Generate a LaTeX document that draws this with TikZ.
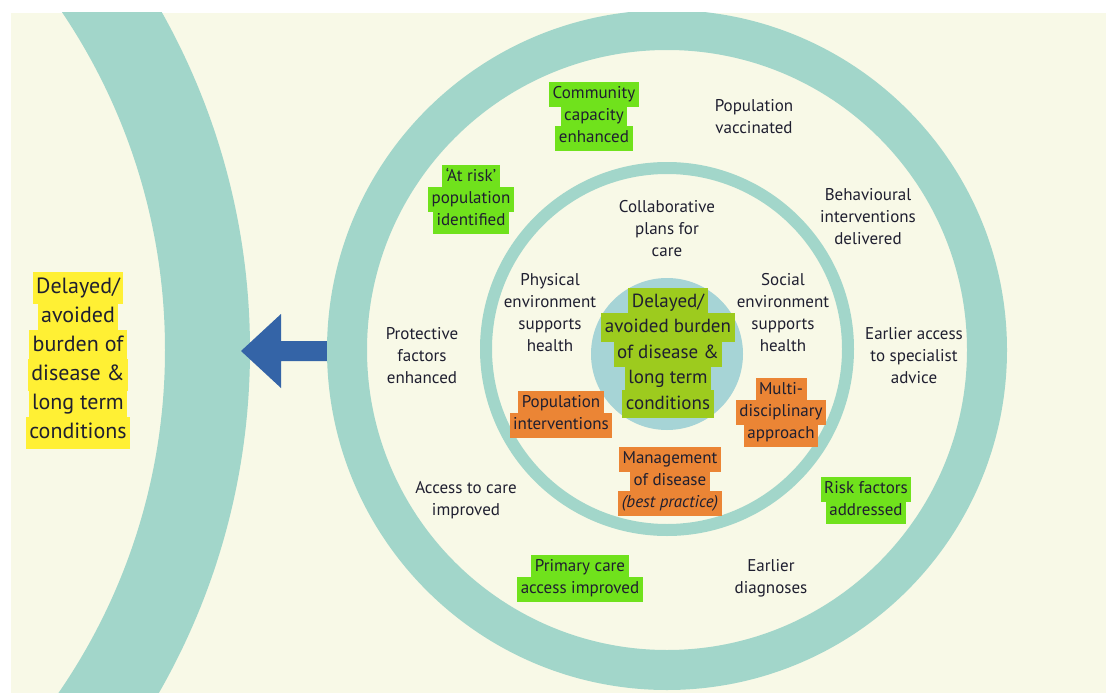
\documentclass[tikz,border=0pt]{standalone}
\usepackage{fontspec}
\setmainfont{PT Sans}
\usepackage{tikz}

\definecolor{bgcream}{HTML}{F8F9E7}
\definecolor{ringteal}{HTML}{A2D6CA}
\definecolor{discblue}{HTML}{A6D4D6}
\definecolor{arrowblue}{HTML}{3464A7}
\definecolor{txt}{HTML}{1F1F30}
\definecolor{hlyellow}{HTML}{FFF034}
\definecolor{hlgreen}{HTML}{70E21C}
\definecolor{hlolive}{HTML}{9DCB1E}
\definecolor{hlorange}{HTML}{EB8535}

\lineskiplimit=-50pt
\newcommand{\hl}[2]{{\fboxsep=1.5pt\colorbox{#1}{\hspace{2pt}\strut #2\hspace{2pt}}}}

\begin{document}
\begin{tikzpicture}[
    x = 1pt,
    y = -1pt,
    ring/.style = {fill=ringteal, even odd rule},
    plain/.style = {align=center, text=txt, inner sep=0pt,
              font=\fontsize{17}{22}\selectfont},
    centre/.style = {plain, font=\fontsize{19}{25.5}\selectfont},
    big/.style = {plain, font=\fontsize{22}{29}\selectfont},
    ]

\useasboundingbox (0,0) rectangle (1106,693);
\fill[bgcream] (11,13) rectangle (1106,693);

\begin{scope}
\clip (11,13) rectangle (1106,693);
\fill[ring] (-440,350) circle[radius=690] circle[radius=605];
% block arrow out of the rings
\coordinate (arrow_tip) at (241,351);
\fill[arrowblue] (arrow_tip) -- (281,314) -- (281,341) -- (335,341)
    -- (335,361) -- (281,361) -- (281,388) -- cycle;
\fill[ring] (667,350) circle[radius=340] circle[radius=300];
\fill[ring] (667,349) circle[radius=187] circle[radius=175];
\fill[discblue] (667,354) circle[radius=76];
\end{scope}

\node[big] (goal_left) at (78,360) {\hl{hlyellow}{Delayed/}\\\hl{hlyellow}{avoided}\\
    \hl{hlyellow}{burden of}\\\hl{hlyellow}{disease \&}\\\hl{hlyellow}{long term}\\
    \hl{hlyellow}{conditions}};

% outer ring
\node[plain] (community) at (594,116) {\hl{hlgreen}{Community}\\\hl{hlgreen}{capacity}\\
    \hl{hlgreen}{enhanced}};
\node[plain] (vaccinated) at (754,117) {Population\\vaccinated};
\node[plain] (at_risk) at (471,199) {\hl{hlgreen}{`At risk'}\\\hl{hlgreen}{population}\\
    \hl{hlgreen}{identified}};
\node[plain] (behavioural) at (868,217) {Behavioural\\interventions\\delivered};
\node[plain] (protective) at (422,356) {Protective\\factors\\enhanced};
\node[plain] (specialist) at (914,356) {Earlier access\\to specialist\\advice};
\node[plain] (access_care) at (466,500) {Access to care\\improved};
\node[plain] (risk_factors) at (866,500) {\hl{hlgreen}{Risk factors}\\\hl{hlgreen}{addressed}};
\node[plain] (primary_care) at (580,578) {\hl{hlgreen}{Primary care}\\
    \hl{hlgreen}{access improved}};
\node[plain] (diagnoses) at (771,578) {Earlier\\diagnoses};

% middle ring
\node[plain] (collab) at (667,229) {Collaborative\\plans for\\care};
\node[plain] (physical) at (550,313) {Physical\\environment\\supports\\health};
\node[plain] (social) at (783,313) {Social\\environment\\supports\\health};
\node[plain] (pop_interv) at (561,414) {\hl{hlorange}{Population}\\
    \hl{hlorange}{interventions}};
\node[plain] (multi) at (781,412) {\hl{hlorange}{Multi-}\\\hl{hlorange}{disciplinary}\\
    \hl{hlorange}{approach}};
\node[plain] (management) at (670,481) {\hl{hlorange}{Management}\\
    \hl{hlorange}{of disease}\\\hl{hlorange}{\itshape(best practice)}};

% centre disc
\node[centre] (goal_centre) at (668,353) {\hl{hlolive}{Delayed/}\\
    \hl{hlolive}{avoided burden}\\\hl{hlolive}{of disease \&}\\
    \hl{hlolive}{long term}\\\hl{hlolive}{conditions}};

\end{tikzpicture}
\end{document}
